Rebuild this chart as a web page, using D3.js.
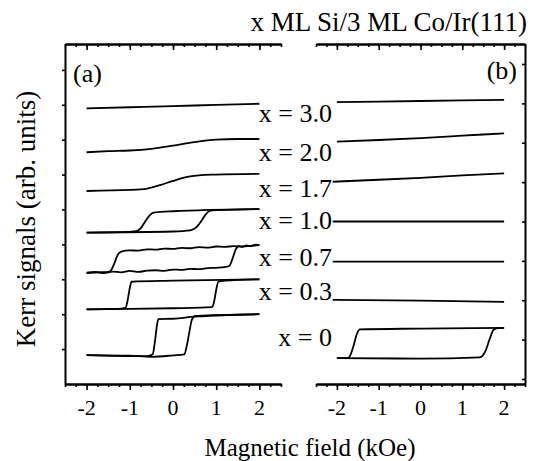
<!DOCTYPE html>
<html>
<head>
<meta charset="utf-8">
<script src="https://cdn.jsdelivr.net/npm/d3@7"></script>
<style>
  body { margin: 0; background: #fff; }
</style>
</head>
<body>
<svg width="533" height="461"></svg>
<script>
// sample labels (Si thickness) and where they sit, in panel (b) units
let sampleLabels = ["x = 3.0", "x = 2.0", "x = 1.7", "x = 1.0", "x = 0.7", "x = 0.3", "x = 0"];
let labelPos = [7.53, 6.54, 5.63, 4.81, 3.88, 3.01, 1.85];

let fieldTicks = [-2, -1, 0, 1, 2];
let signalTicks = [1, 2, 3, 4, 5, 6, 7, 8, 9];

// panel (a): [field kOe, signal], "up" = increasing field sweep
let a30 = [[-2, 7.90], [-1, 7.93], [0, 7.96], [1, 8.0], [2, 8.03]];
let a20 = [[-2, 6.64], [-1.5, 6.67], [-1, 6.69], [-0.5, 6.74], [0, 6.83], [0.5, 6.93], [1, 7.0], [1.5, 7.02], [2, 7.02]];
let a17 = [[-2, 5.53], [-1, 5.56], [-0.6, 5.60], [-0.3, 5.70], [0, 5.82], [0.3, 5.93], [0.6, 5.98], [1, 6.0], [2, 6.02]];
let a10Up = [[-2, 4.34], [0, 4.37], [0.4, 4.40], [0.55, 4.5], [0.65, 4.66], [0.75, 4.85], [0.85, 4.96], [1, 4.98], [2, 5.01]];
let a10Down = [[2, 5.01], [0, 4.95], [-0.45, 4.91], [-0.55, 4.82], [-0.65, 4.64], [-0.75, 4.46], [-0.85, 4.38], [-1.2, 4.35], [-2, 4.34]];
let a07Up = [[-2, 3.19], [-1.8, 3.21], [-1.6, 3.18], [-1.4, 3.22], [-1.2, 3.20], [-1, 3.24], [-0.8, 3.21], [-0.6, 3.25], [-0.4, 3.26],
  [-0.2, 3.24], [0, 3.28], [0.2, 3.27], [0.4, 3.30], [0.6, 3.29], [0.8, 3.32], [1, 3.33], [1.2, 3.35], [1.3, 3.38], [1.38, 3.6],
  [1.45, 3.85], [1.52, 3.95], [1.6, 3.93], [1.7, 3.97], [1.8, 3.95], [1.9, 3.99], [2, 3.98]];
let a07Down = [[2, 3.98], [1.8, 3.96], [1.6, 3.94], [1.4, 3.95], [1.2, 3.93], [1, 3.94], [0.8, 3.91], [0.6, 3.92], [0.4, 3.89],
  [0.2, 3.90], [0, 3.87], [-0.2, 3.88], [-0.4, 3.85], [-0.6, 3.86], [-0.8, 3.82], [-1, 3.83], [-1.2, 3.79], [-1.28, 3.7],
  [-1.36, 3.45], [-1.44, 3.25], [-1.5, 3.21], [-1.7, 3.2], [-2, 3.18]];
let a03Up = [[-2, 2.14], [-1, 2.15], [0, 2.17], [0.9, 2.20], [0.95, 2.35], [1.0, 2.7], [1.05, 2.93], [1.2, 2.96], [2, 3.0]];
let a03Down = [[2, 3.0], [0, 2.96], [-0.96, 2.93], [-1.0, 2.75], [-1.05, 2.4], [-1.1, 2.18], [-1.3, 2.15], [-2, 2.14]];
let a0Up = [[-2, 0.83], [-1, 0.81], [-0.5, 0.78], [0, 0.82], [0.26, 0.85], [0.32, 1.1], [0.38, 1.5], [0.44, 1.85], [0.52, 1.95], [1, 1.97], [2, 2.0]];
let a0Down = [[2, 2.0], [0.5, 1.93], [0, 1.87], [-0.34, 1.86], [-0.38, 1.6], [-0.42, 1.2], [-0.47, 0.85], [-0.6, 0.80], [-2, 0.83]];

// panel (b)
let b30 = [[-2, 8.03], [0, 8.06], [2, 8.09]];
let b20 = [[-2, 7.03], [-1, 7.07], [0, 7.12], [1, 7.18], [2, 7.24]];
let b17 = [[-2.1, 6.01], [-1, 6.06], [0, 6.11], [1, 6.17], [2, 6.22]];
let b10 = [[-2.1, 5.0], [0, 5.0], [2, 5.0]];
let b07 = [[-2.1, 3.98], [2, 3.98]];
let b03 = [[-2.1, 3.01], [0, 2.99], [2, 2.96]];
let b0Up = [[-2, 1.53], [0, 1.52], [1.42, 1.55], [1.55, 1.7], [1.65, 2.0], [1.75, 2.25], [1.85, 2.29], [2, 2.30]];
let b0Down = [[2, 2.30], [0, 2.28], [-1.45, 2.26], [-1.52, 2.15], [-1.6, 1.85], [-1.68, 1.6], [-1.75, 1.53], [-2, 1.53]];

let curvesA = [a30, a20, a17, a10Up, a10Down, a07Up, a07Down, a03Up, a03Down, a0Up, a0Down];
let curvesB = [b30, b20, b17, b10, b07, b03, b0Up, b0Down];

let font = "'Liberation Serif', 'DejaVu Serif', serif";
let svg = d3.select("svg");
let plotTop = 44, plotBottom = 384;

let xA = d3.scaleLinear().domain([-2.5, 2.5]).range([65, 281]);
let xB = d3.scaleLinear().domain([-2.5, 2.5]).range([316, 525]);
let yA = d3.scaleLinear().domain([0, (plotBottom - plotTop) / 34.9]).range([plotBottom, plotTop]);
let yB = d3.scaleLinear().domain([1 - 5 / 39.375, 9 + 20 / 39.375]).range([plotBottom, plotTop]);

let minorField = d3.range(-2.5, 2.501, 0.25);

function drawPanel(x, y, curves, side) {
    let g = svg.append("g");
    // top and bottom edges, minor + major ticks
    [plotTop, plotBottom].forEach(yy => {
        g.append("g").attr("transform", `translate(0,${yy})`)
            .call(d3.axisBottom(x).tickValues(minorField).tickSize(3).tickSizeOuter(0).tickFormat(""));
        g.append("g").attr("transform", `translate(0,${yy})`)
            .call(d3.axisBottom(x).tickValues(fieldTicks).tickSize(6).tickSizeOuter(0).tickFormat(""));
    });
    // tick labels under the bottom edge
    g.selectAll(".flab").data(fieldTicks).join("text")
        .attr("x", x).attr("y", 415)
        .attr("text-anchor", "middle")
        .attr("font-family", font)
        .attr("font-size", 22)
        .text(d => d < 0 ? "-" + Math.abs(d) : d);
    // vertical edge
    let vx = side === "left" ? x.range()[0] : x.range()[1];
    g.append("g").attr("transform", `translate(${vx},0)`)
        .call(d3.axisLeft(y).tickValues(signalTicks).tickSize(3).tickSizeOuter(0).tickFormat(""));
    g.selectAll(".domain, .tick line").attr("stroke", "#000").attr("stroke-width", 1.6);
    g.selectAll(".domain").attr("stroke-width", 2);

    let line = d3.line().x(d => x(d[0])).y(d => y(d[1])).curve(d3.curveMonotoneX);
    g.selectAll(".curve").data(curves).join("path")
        .attr("d", line)
        .attr("fill", "none")
        .attr("stroke", "#000")
        .attr("stroke-width", 1.8);
}

drawPanel(xA, yA, curvesA, "left");
drawPanel(xB, yB, curvesB, "right");

function label(x, y, txt, size, anchor) {
    return svg.append("text").attr("x", x).attr("y", y)
        .attr("text-anchor", anchor || "start")
        .attr("font-family", font)
        .attr("font-size", size)
        .text(txt);
}

sampleLabels.forEach((d, i) => label(332, yB(labelPos[i]), d, 26, "end"));

label(73, 82, "(a)", 26);
label(517, 79, "(b)", 26, "end");
label(527, 31, "x ML Si/3 ML Co/Ir(111)", 27, "end");
label(310, 456, "Magnetic field (kOe)", 25, "middle");
label(0, 0, "Kerr signals (arb. units)", 27, "middle")
    .attr("transform", "translate(35,219) rotate(-90)");
</script>
</body>
</html>
